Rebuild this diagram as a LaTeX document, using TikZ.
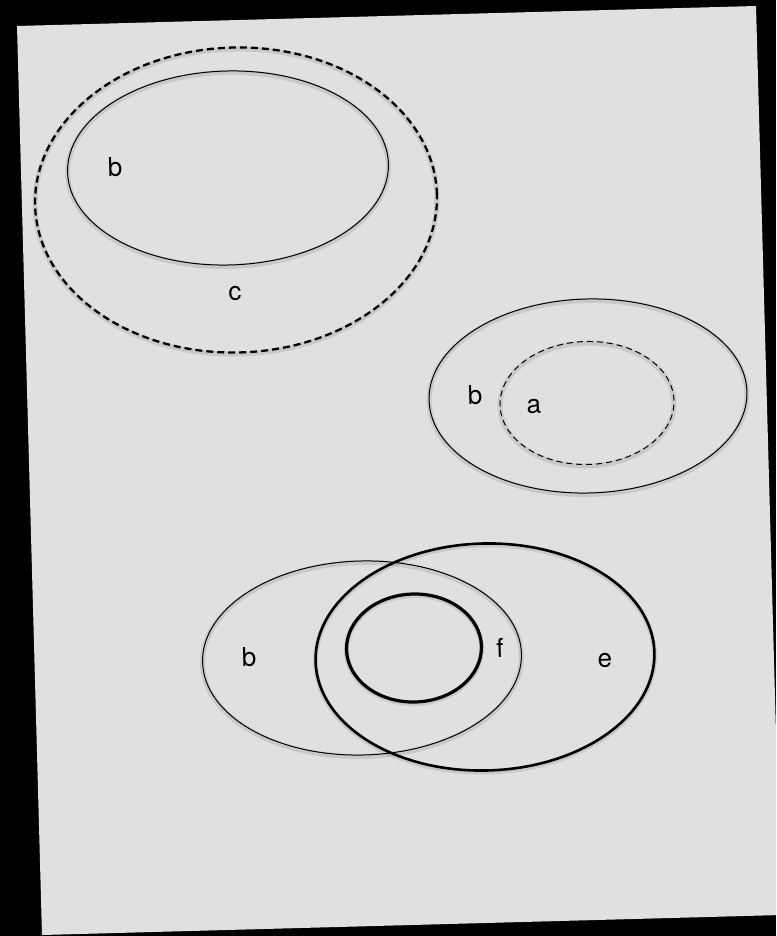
\documentclass[tikz,border=0pt]{standalone}
\usepackage{fontspec}
\setmainfont{TeX Gyre Heros}
\usepackage{tikz}
\usetikzlibrary{shapes.geometric}
\definecolor{sheet}{gray}{0.88}
\tikzstyle{blurline} = [preaction={draw=black, solid, opacity=0.10,
line width=5pt, 
transform canvas={yshift=-1.5pt}}]
\tikzstyle{region} = [ellipse, 
inner sep=0pt, 
draw=black, 
line width=1pt, 
rotate=1.55, 
blurline]
\tikzstyle{dashregion} = [region, 
line width=2.3pt, 
dash pattern=on 7pt off 4pt]
\tikzstyle{thindash} = [region, 
dash pattern=on 6pt off 4pt]
\tikzstyle{boldregion} = [region, line width=2.6pt]
\tikzstyle{lbl} = [inner sep=0pt, 
rotate=1.55, 
font=\fontsize{26}{30}\selectfont]

\begin{document}
\begin{tikzpicture}[x=1pt, y=-1pt]

        \useasboundingbox (0,0) rectangle (776,936);
        \clip (0,0) rectangle (776,936);
        \fill[black] (0,0) rectangle (776,936);
        % the tilted sheet
        \fill[sheet] (17,26) -- (756,6) -- (781,915) -- (42,935) -- cycle;

        % top: b inside c
        \node (cset) [dashregion, minimum width=402pt, minimum height=305pt] 
        at (236,200) {};
        \node (bset1) [region, minimum width=321pt, minimum height=194pt] 
        at (228,168) {};
        \node (lb1) [lbl] at (115,167) {b};
        \node (lc) [lbl] at (235,294) {c};

        % middle: a inside b
        \node (bset2) [region, minimum width=318pt, minimum height=194pt] 
        at (588,396) {};
        \node (aset) [thindash, minimum width=174pt, minimum height=123pt] 
        at (587,403) {};
        \node (lb2) [lbl] at (475,395) {b};
        \node (la) [lbl] at (534,406) {a};

        % bottom: b, e and f
        \node (bset3) [region, minimum width=319pt, minimum height=194pt] 
        at (362,658) {};
        \node (eset) [boldregion, minimum width=339pt, minimum height=227pt] 
        at (485,657) {};
        \node (fset) [boldregion, line width=3.2pt, minimum width=135pt, minimum height=108pt] 
        at (414,648) {};
        \node (lb3) [lbl] at (249,657) {b};
        \node (lf) [lbl] at (500,648) {f};
        \node (le) [lbl] at (605,660) {e};

\end{tikzpicture}
\end{document}
